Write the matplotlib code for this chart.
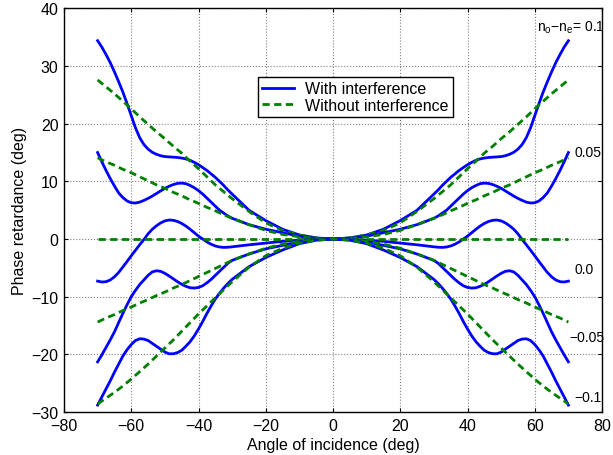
import numpy as np
import matplotlib
matplotlib.use("Agg")
import matplotlib.pyplot as plt

plt.rcParams['font.family'] = ['Liberation Sans', 'DejaVu Sans']
plt.rcParams['mathtext.fontset'] = 'custom'
plt.rcParams['mathtext.rm'] = 'Liberation Sans'
plt.rcParams['mathtext.it'] = 'Liberation Sans:italic'

# angle of incidence (deg) for the curves with interference
angle_w = ([-70, -68.75, -67.5, -66.25, -65, -63.75, -62.5, -61.25, -60, -58.75, -57.5,
            -56.25, -55, -53.75, -52.5, -51.25, -50, -48.75, -47.5, -46.25, -45, -43.75,
            -42.5, -41.25, -40, -38.75, -37.5, -36.25, -35, -33.75, -32.5, -31.25, -30]
           + [-25, -20, -15, -10, -5, 0, 5, 10, 15, 20, 25]
           + [30, 31.25, 32.5, 33.75, 35, 36.25, 37.5, 38.75, 40, 41.25, 42.5, 43.75, 45,
              46.25, 47.5, 48.75, 50, 51.25, 52.5, 53.75, 55, 56.25, 57.5, 58.75, 60,
              61.25, 62.5, 63.75, 65, 66.25, 67.5, 68.75, 70])

# with interference (blue), n_o - n_e = 0.1, 0.05, 0.0, -0.05, -0.1
with_01 = ([34.4, 33.3, 32.0, 30.6, 29.0, 27.3, 25.5, 23.5, 21.4, 19.3, 17.6, 16.4, 15.6,
            15.05, 14.7, 14.45, 14.3, 14.25, 14.2, 14.15, 14.05, 13.9, 13.65, 13.3, 12.9,
            12.4, 11.9, 11.3, 10.7, 10.0, 9.3, 8.5, 7.8]
           + [5.0, 3.2, 1.7, 0.7, 0.2, 0.0, 0.2, 0.7, 1.7, 3.2, 5.0]
           + [7.8, 8.5, 9.3, 10.0, 10.7, 11.3, 11.9, 12.4, 12.9, 13.3, 13.65, 13.9, 14.05,
              14.15, 14.2, 14.25, 14.3, 14.45, 14.7, 15.05, 15.6, 16.4, 17.6, 19.3, 21.4,
              23.5, 25.5, 27.3, 29.0, 30.6, 32.0, 33.3, 34.4])
with_005 = ([15.0, 13.4, 11.9, 10.5, 9.2, 8.0, 7.2, 6.6, 6.3, 6.25, 6.4, 6.7, 7.05, 7.45,
             7.9, 8.35, 8.8, 9.15, 9.45, 9.65, 9.7, 9.6, 9.3, 8.9, 8.4, 7.8, 7.1, 6.4, 5.7,
             5.0, 4.5, 4.0, 3.6]
            + [2.5, 1.7, 1.1, 0.5, 0.1, 0.0, 0.1, 0.5, 1.1, 1.7, 2.5]
            + [3.6, 4.0, 4.5, 5.0, 5.7, 6.4, 7.1, 7.8, 8.4, 8.9, 9.3, 9.6, 9.7, 9.65, 9.45,
               9.15, 8.8, 8.35, 7.9, 7.45, 7.05, 6.7, 6.4, 6.25, 6.3, 6.6, 7.2, 8.0, 9.2,
               10.5, 11.9, 13.4, 15.0])
with_00 = ([-7.3, -7.45, -7.4, -7.1, -6.55, -5.8, -4.85, -3.9, -2.9, -1.95, -1.0, -0.1,
            0.9, 1.7, 2.3, 2.8, 3.15, 3.3, 3.25, 3.05, 2.7, 2.25, 1.7, 1.1, 0.5, 0.0, -0.5,
            -0.9, -1.2, -1.38, -1.45, -1.42, -1.35]
           + [-1.0, -0.7, -0.4, -0.2, -0.05, 0.0, -0.05, -0.2, -0.4, -0.7, -1.0]
           + [-1.35, -1.42, -1.45, -1.38, -1.2, -0.9, -0.5, 0.0, 0.5, 1.1, 1.7, 2.25, 2.7,
              3.05, 3.25, 3.3, 3.15, 2.8, 2.3, 1.7, 0.9, -0.1, -1.0, -1.95, -2.9, -3.9,
              -4.85, -5.8, -6.55, -7.1, -7.4, -7.45, -7.3])
with_m005 = ([-21.3, -20.1, -18.8, -17.5, -16.1, -14.5, -12.9, -11.4, -10.0, -8.9, -7.9,
              -7.1, -6.3, -5.7, -5.5, -5.6, -5.95, -6.4, -6.9, -7.4, -7.85, -8.2, -8.45,
              -8.5, -8.4, -8.1, -7.6, -7.0, -6.3, -5.6, -4.9, -4.2, -3.7]
             + [-2.6, -1.7, -1.1, -0.5, -0.1, 0.0, -0.1, -0.5, -1.1, -1.7, -2.6]
             + [-3.7, -4.2, -4.9, -5.6, -6.3, -7.0, -7.6, -8.1, -8.4, -8.5, -8.45, -8.2,
                -7.85, -7.4, -6.9, -6.4, -5.95, -5.6, -5.5, -5.7, -6.3, -7.1, -7.9, -8.9,
                -10.0, -11.4, -12.9, -14.5, -16.1, -17.5, -18.8, -20.1, -21.3])
with_m01 = ([-28.8, -27.4, -26.0, -24.6, -23.1, -21.7, -20.3, -19.2, -18.3, -17.6, -17.3,
             -17.35, -17.6, -18.1, -18.6, -19.1, -19.6, -19.9, -19.9, -19.7, -19.3, -18.6,
             -17.8, -16.8, -15.6, -14.3, -12.9, -11.6, -10.4, -9.4, -8.5, -7.7, -7.0]
            + [-4.8, -3.2, -1.9, -0.8, -0.2, 0.0, -0.2, -0.8, -1.9, -3.2, -4.8]
            + [-7.0, -7.7, -8.5, -9.4, -10.4, -11.6, -12.9, -14.3, -15.6, -16.8, -17.8,
               -18.6, -19.3, -19.7, -19.9, -19.9, -19.6, -19.1, -18.6, -18.1, -17.6, -17.35,
               -17.3, -17.6, -18.3, -19.2, -20.3, -21.7, -23.1, -24.6, -26.0, -27.4, -28.8])

# angle of incidence (deg) for the curves without interference
angle_n = [-70, -67.5, -65, -62.5, -60, -57.5, -55, -52.5, -50, -47.5, -45, -42.5, -40,
           -37.5, -35, -32.5, -30, -25, -20, -15, -10, -5, 0,
           5, 10, 15, 20, 25, 30, 32.5, 35, 37.5, 40, 42.5, 45, 47.5, 50,
           52.5, 55, 57.5, 60, 62.5, 65, 67.5, 70]

# without interference (green)
without_01 = [27.6, 26.4, 25.2, 23.9, 22.6, 21.2, 19.9, 18.6, 17.4, 16.1, 14.9, 13.5, 12.2,
              10.8, 9.4, 8.2, 7.0, 4.8, 2.8, 1.5, 0.7, 0.2, 0.0,
              0.2, 0.7, 1.5, 2.8, 4.8, 7.0, 8.2, 9.4, 10.8, 12.2, 13.5, 14.9, 16.1, 17.4,
              18.6, 19.9, 21.2, 22.6, 23.9, 25.2, 26.4, 27.6]
without_005 = [14.1, 13.4, 12.8, 12.1, 11.5, 10.8, 10.1, 9.4, 8.8, 8.1, 7.5, 6.8, 6.2,
               5.5, 4.9, 4.2, 3.6, 2.5, 1.5, 0.8, 0.4, 0.1, 0.0,
               0.1, 0.4, 0.8, 1.5, 2.5, 3.6, 4.2, 4.9, 5.5, 6.2, 6.8, 7.5, 8.1, 8.8,
               9.4, 10.1, 10.8, 11.5, 12.1, 12.8, 13.4, 14.1]
without_00 = [0.0] * 45
without_m005 = [-14.4, -13.7, -13.1, -12.4, -11.8, -11.1, -10.5, -9.8, -9.2, -8.5, -7.9, -7.2, -6.5,
                -5.8, -5.1, -4.4, -3.7, -2.6, -1.6, -0.9, -0.4, -0.1, 0.0,
                -0.1, -0.4, -0.9, -1.6, -2.6, -3.7, -4.4, -5.1, -5.8, -6.5, -7.2, -7.9, -8.5, -9.2,
                -9.8, -10.5, -11.1, -11.8, -12.4, -13.1, -13.7, -14.4]
without_m01 = [-28.6, -27.6, -26.6, -25.5, -24.3, -23.0, -21.7, -20.3, -18.9, -17.5, -16.0, -14.5, -13.0,
               -11.6, -10.2, -8.8, -7.4, -4.9, -2.9, -1.6, -0.7, -0.2, 0.0,
               -0.2, -0.7, -1.6, -2.9, -4.9, -7.4, -8.8, -10.2, -11.6, -13.0, -14.5, -16.0, -17.5, -18.9,
               -20.3, -21.7, -23.0, -24.3, -25.5, -26.6, -27.6, -28.6]

with_curves = [with_01, with_005, with_00, with_m005, with_m01]
without_curves = [without_01, without_005, without_00, without_m005, without_m01]

# curve labels (text, x, y)
label_text = [r'n$_\mathrm{o}$$-$n$_\mathrm{e}$= 0.1', '0.05', '0.0', '\u22120.05', '\u22120.1']
label_x = [60.8, 71.9, 71.9, 70.4, 71.9]
label_y = [36.9, 15.1, -5.2, -17.0, -27.4]

fig = plt.figure(figsize=(6.13, 4.56), dpi=100)
ax = fig.add_axes([0.1044, 0.0943, 0.8777, 0.885])

for i, (yw, yn) in enumerate(zip(with_curves, without_curves)):
    ax.plot(angle_w, yw, color=(0, 0, 1), lw=2.0, solid_joinstyle='round',
            label='With interference' if i == 0 else None)
    ax.plot(angle_n, yn, color=(0, 0.5, 0), lw=2.0, dashes=(2.6, 1.6),
            label='Without interference' if i == 0 else None)

for t, x, y in zip(label_text, label_x, label_y):
    ax.text(x, y, t, fontsize=10, ha='left', va='center', clip_on=False)

ax.set_xlim(-80, 80)
ax.set_ylim(-30, 40)
ax.set_xticks(np.arange(-80, 81, 20))
ax.set_yticks(np.arange(-30, 41, 10))
ax.grid(True, linestyle=':', color='#808080', lw=0.8)
ax.tick_params(direction='in', length=3, top=True, right=True, labelsize=11.5, pad=4)
for s in ax.spines.values():
    s.set_linewidth(1.0)

ax.set_xlabel('Angle of incidence (deg)', fontsize=11.5, labelpad=3)
ax.set_ylabel('Phase retardance (deg)', fontsize=11.5, labelpad=3)

leg = ax.legend(loc='upper left', bbox_to_anchor=(0.361, 0.829), fontsize=11.5,
                fancybox=False, edgecolor='black', framealpha=1,
                handlelength=2.0, handletextpad=0.7, borderpad=0.25, labelspacing=0.1,
                borderaxespad=0)
leg.get_frame().set_linewidth(1.0)

fig.savefig('out.png', dpi=100)
